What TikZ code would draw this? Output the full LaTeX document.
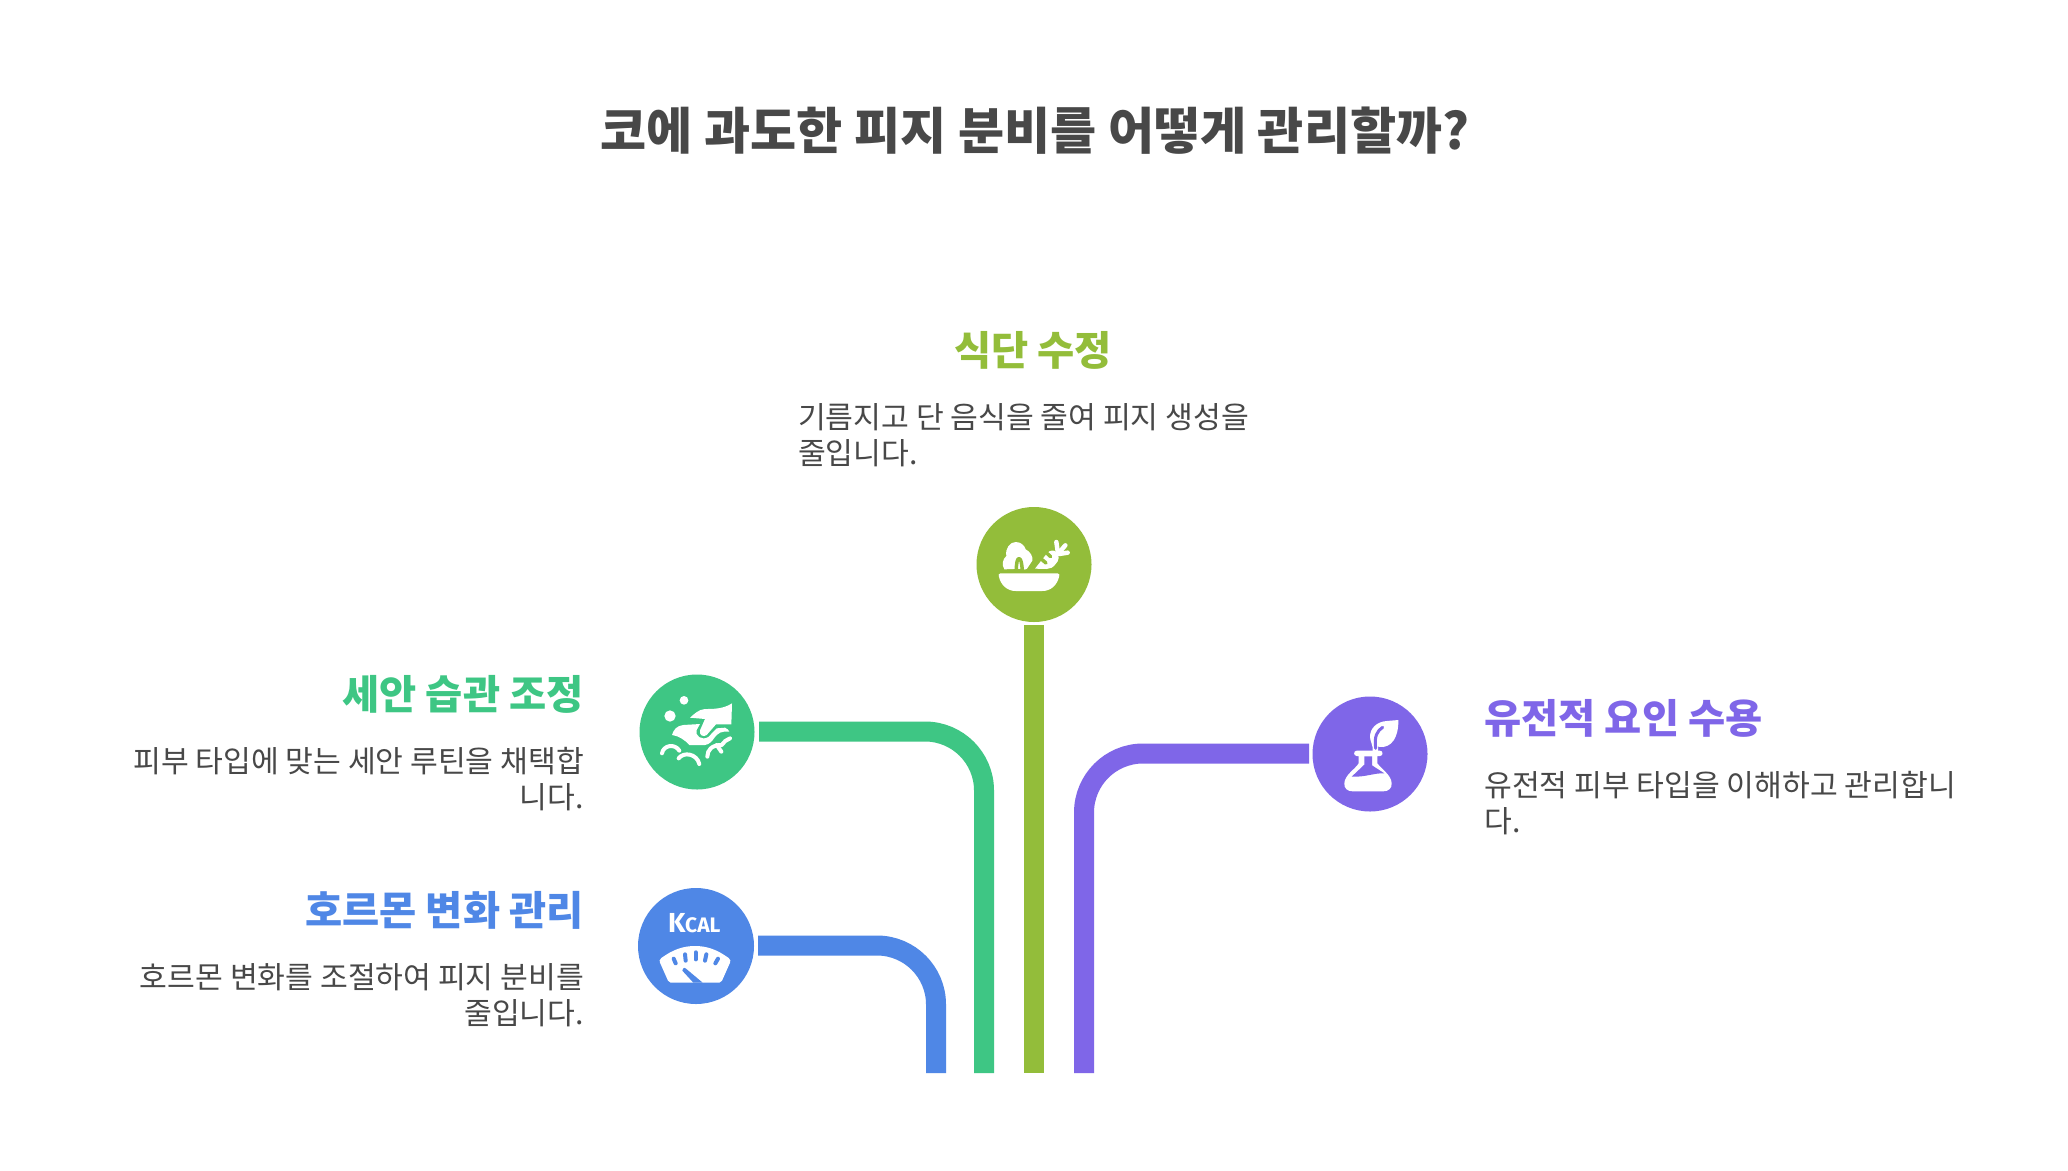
\documentclass[tikz,border=0pt]{standalone}
\usepackage{fontspec}
\setmainfont{Noto Sans CJK KR}
\newfontfamily\kcalfont{Fira Sans}
\definecolor{cLime}{HTML}{93BD3A}
\definecolor{cGreen}{HTML}{3EC684}
\definecolor{cBlue}{HTML}{4F87E6}
\definecolor{cPurple}{HTML}{7F66E8}
\definecolor{cText}{HTML}{484848}
\tikzset{
  titletext/.style={inner sep=0pt,text=cText,font=\fontsize{50.15}{60}\selectfont\bfseries},
  headtext/.style={inner sep=0pt,font=\fontsize{40.4}{46}\selectfont\bfseries},
  bodytext/.style={inner sep=0pt,text=cText,font=\fontsize{30.2}{36}\selectfont},
  disc/.style={circle,minimum size=115pt,inner sep=0pt,outer sep=#1},
  conn/.style={line width=20pt,line cap=butt,line join=miter},
  iconscope/.style={x=0.3333333pt,y=-0.3333333pt},
  wht/.style={fill=white,draw=none},
  cut/.style={line width=#1,line cap=round,line join=round},
  arcw/.style={draw=white,line width=4pt,line cap=round,line join=round,fill=none}
}
\begin{document}
\begin{tikzpicture}[x=1pt,y=-1pt]
\useasboundingbox (0,0) rectangle (2068,1170);
\fill[white] (0,0) rectangle (2068,1170);

\node[titletext,anchor=center] (title) at (1035,131) {코에 과도한 피지 분비를 어떻게 관리할까?};

% heads and descriptions
\node[headtext,text=cLime,anchor=center] (h1) at (1033,350.5) {식단 수정};
\node[bodytext,anchor=north west,align=left] (d1) at (798,403) {기름지고 단 음식을 줄여 피지 생성을\\줄입니다.};
\node[headtext,text=cGreen,anchor=east] (h2) at (584,694.5) {세안 습관 조정};
\node[bodytext,anchor=north east,align=right] (d2) at (584,747) {피부 타입에 맞는 세안 루틴을 채택합\\니다.};
\node[headtext,text=cBlue,anchor=east] (h3) at (584,910.5) {호르몬 변화 관리};
\node[bodytext,anchor=north east,align=right] (d3) at (584,963) {호르몬 변화를 조절하여 피지 분비를\\줄입니다.};
\node[headtext,text=cPurple,anchor=west] (h4) at (1484,718.5) {유전적 요인 수용};
\node[bodytext,anchor=north west,align=left] (d4) at (1484,771) {유전적 피부 타입을 이해하고 관리합니\\다.};

% discs
\node[disc=3pt,fill=cLime] (cl) at (1034,564.5) {};
\node[disc=4.5pt,fill=cGreen] (cg) at (697,732) {};
\node[disc=4pt,fill=cBlue,minimum size=116pt] (cb) at (696,946) {};
\node[disc=3.5pt,fill=cPurple] (cp) at (1370,754) {};

% ends of the connectors
\coordinate (el) at (1034,1073);
\coordinate (eg) at (984,1073);
\coordinate (eb) at (936,1073);
\coordinate (ep) at (1084,1073);
\draw[conn,draw=cLime] (cl.south) -- (el);
\draw[conn,draw=cGreen,rounded corners=59pt] ([yshift=0.5pt]cg.east) -| (eg);
\draw[conn,draw=cBlue,rounded corners=59pt] ([yshift=0.5pt]cb.east) -| (eb);
\draw[conn,draw=cPurple,rounded corners=59pt] ([yshift=0.5pt]cp.west) -| (ep);

% salad icon
\begin{scope}[shift={(985,520)},iconscope]
  \fill[wht] (46,160) -- (218,160) .. controls (224,160) and (224,166) .. (222,171)
     .. controls (216,195) and (198,213) .. (172,213) -- (92,213)
     .. controls (66,213) and (48,195) .. (42,171) .. controls (40,166) and (40,160) .. (46,160) -- cycle;
  \fill[wht] (58,148) .. controls (50,135) and (52,118) .. (64,108)
     .. controls (60,85) and (75,66) .. (92,66) .. controls (108,66) and (118,76) .. (122,88)
     .. controls (135,94) and (145,110) .. (142,122) -- (126,146)
     .. controls (122,150) and (116,150) .. (112,146) -- (58,148) -- cycle;
  \draw[draw=cLime,cut=3.5pt,line cap=butt] (94,150) .. controls (94,128) and (97,116) .. (102,116) .. controls (108,116) and (110,130) .. (112,150);
  \fill[wht] (150,146) -- (186,100) .. controls (194,90) and (208,88) .. (216,98)
     .. controls (224,108) and (222,122) .. (212,132) .. controls (205,142) and (195,147) .. (185,147) -- cycle;
  \draw[draw=cLime,cut=3.5pt] (170,118) -- (183,129);
  \draw[draw=cLime,cut=3.5pt] (186,100) -- (197,110);
  \draw[draw=white,cut=4.5pt] (218,94) -- (214,66);
  \draw[draw=white,cut=4.5pt] (222,98) -- (241,76);
  \draw[draw=white,cut=4.5pt] (222,102) -- (248,98);
\end{scope}

% washing icon
\begin{scope}[shift={(650,685)},iconscope]
  \fill[wht] (60,93) circle (17);
  \fill[wht] (102,46) circle (13);
  \fill[wht] (120,98) .. controls (135,85) and (145,74) .. (165,72) .. controls (190,72) and (220,72) .. (246,55)
     -- (244,118) -- (198,118) -- (170,150) .. controls (160,158) and (146,150) .. (150,136) -- (165,102) -- cycle;
  \fill[wht] (66,150) .. controls (70,135) and (80,122) .. (100,120) -- (150,117) -- (140,135)
     .. controls (134,152) and (155,168) .. (175,156) -- (200,130) -- (225,128)
     .. controls (232,130) and (236,136) .. (238,140) .. controls (215,138) and (205,142) .. (192,160)
     .. controls (185,170) and (178,178) .. (165,180) -- (118,180) .. controls (105,165) and (85,152) .. (66,150) -- cycle;
  \draw[arcw] (36,205) .. controls (40,180) and (75,175) .. (88,197);
  \draw[arcw] (86,220) .. controls (100,200) and (140,205) .. (148,237);
  \draw[arcw] (172,215) .. controls (172,195) and (185,180) .. (215,180) .. controls (220,170) and (230,165) .. (240,160);
  \draw[arcw] (200,180) -- (214,200);
\end{scope}

% scale icon
\begin{scope}[shift={(650,900)},iconscope]
  \fill[wht] (34,174) .. controls (70,148) and (100,138) .. (135,138) .. controls (170,138) and (200,148) .. (236,174)
     .. controls (242,178) and (242,184) .. (240,188) -- (216,242) .. controls (214,247) and (212,248) .. (208,248)
     -- (62,248) .. controls (58,248) and (56,247) .. (54,242) -- (30,188) .. controls (28,184) and (28,178) .. (34,174) -- cycle;
  \foreach \a/\b/\c/\d in {71/176/77/190, 105/163/107/182, 137/157/137/178, 169/163/165/182, 204/176/196/190}
    \draw[draw=cBlue,cut=4pt] (\a,\b) -- (\c,\d);
  \fill[cBlue] (100,205) .. controls (103,203) and (106,203) .. (108,206) -- (158,248) -- (130,248) -- (97,212) .. controls (96,209) and (97,207) .. (100,205) -- cycle;
\end{scope}
\node[text=white,inner sep=0pt,anchor=base west,font=\kcalfont\bfseries\fontsize{27.5}{27.5}\selectfont] (kcal1) at (668,932) {K};
\node[text=white,inner sep=0pt,anchor=base west,font=\kcalfont\bfseries\fontsize{21}{21}\selectfont] (kcal2) at (685,932) {CAL};

% flask icon
\begin{scope}[shift={(1290,680)},iconscope]
  \fill[wht] (200,212) -- (270,212) .. controls (280,212) and (280,228) .. (270,228) -- (262,228) -- (262,250)
     .. controls (275,268) and (304,285) .. (305,310) .. controls (306,325) and (295,334) .. (280,334) -- (188,334)
     .. controls (172,334) and (162,325) .. (163,310) .. controls (164,285) and (195,268) .. (206,250) -- (206,228) -- (200,228)
     .. controls (190,228) and (190,212) .. (200,212) -- cycle;
  \fill[cPurple] (223,229) -- (246,229) -- (246,256) -- (283,280) .. controls (255,278) and (225,292) .. (185,290) -- (223,254) -- cycle;
  \fill[wht] (240,170) .. controls (240,145) and (260,125) .. (290,123) -- (325,120)
     .. controls (326,150) and (318,195) .. (280,201) -- (264,200) -- (264,214) -- (248,214)
     .. controls (250,195) and (240,185) .. (240,170) -- cycle;
  \draw[draw=cPurple,cut=3pt] (278,142) .. controls (262,152) and (252,168) .. (257,205);
\end{scope}
\end{tikzpicture}
\end{document}
